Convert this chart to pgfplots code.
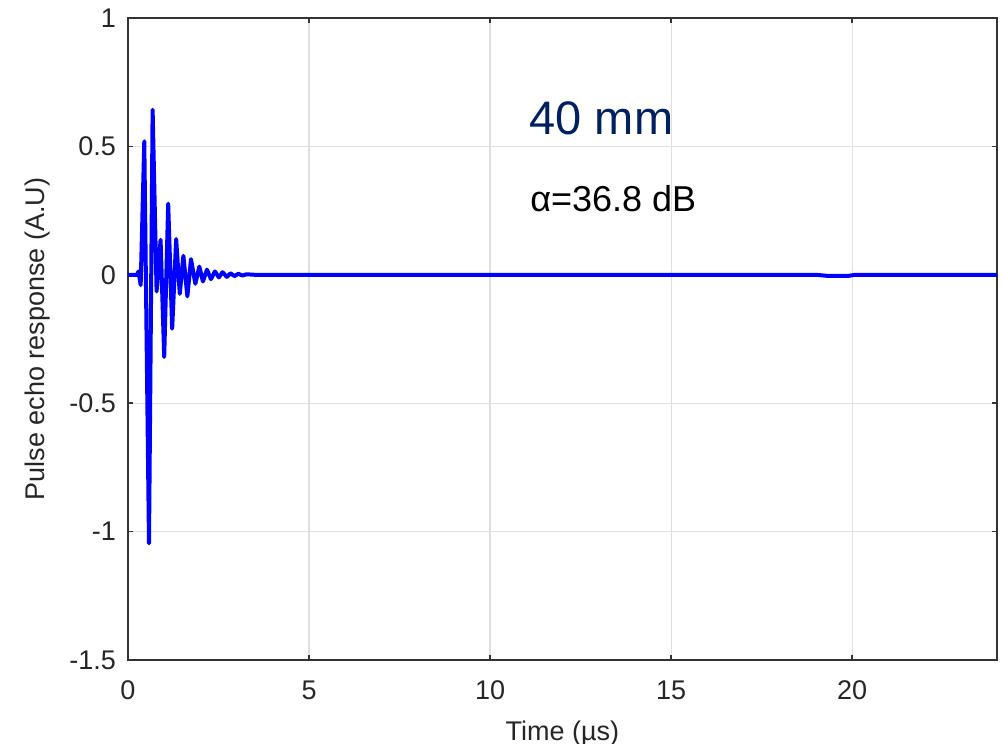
\documentclass[border=0pt]{standalone}
\usepackage{pgfplots}
\pgfplotsset{compat=1.18}
\usepackage{fontspec}
\setmainfont{Liberation Sans}
\definecolor{navy}{HTML}{002060}
\begin{document}
\begin{tikzpicture}
\begin{axis}[name=ax,
  scale only axis, width=434.5pt, height=321pt,
  xmin=0, xmax=24, ymin=-1.5, ymax=1,
  xtick={0,5,10,15,20}, ytick={-1.5,-1,-0.5,0,0.5,1},
  yticklabels={-1.5,-1,-0.5,0,0.5,1},
  xticklabels={0,5,10,15,20},
  tick align=inside, major tick length=2.5pt,
  grid=major, grid style={gray!25, line width=0.6pt},
  axis line style={black!80, line width=0.7pt},
  tick style={black!80, line width=0.7pt},
  ticklabel style={font=\fontsize{13.5}{15}\selectfont, text=black!85},
  xticklabel style={yshift=-7pt},
  yticklabel style={xshift=-2.5pt},
  label style={font=\fontsize{13.5}{15}\selectfont, text=black!85},
  xlabel={Time (µs)}, ylabel={Pulse echo response (A.U)},
  xlabel style={yshift=-3.5pt},
  ylabel style={yshift=3pt},
  clip=true,
]
\addplot[blue, line width=2pt, line join=round] coordinates {
(0,0) (0.25,0) (0.29,0.013) (0.35,-0.04) (0.45,0.52) (0.58,-1.046) (0.68,0.643)
(0.79,-0.065) (0.90,0.136) (1.00,-0.32) (1.11,0.277) (1.22,-0.21) (1.33,0.139)
(1.43,-0.074) (1.53,0.074) (1.64,-0.084) (1.74,0.061) (1.86,-0.035) (1.97,0.032)
(2.07,-0.026) (2.18,0.02) (2.29,-0.017) (2.40,0.013) (2.51,-0.01) (2.61,0.01)
(2.73,-0.008) (2.83,0.006) (2.94,-0.005) (3.05,0.004) (3.16,-0.003) (3.27,0.002)
(3.5,0) (19.0,0) (19.3,-0.004) (19.9,-0.004) (20.1,0) (24,0)
};
\node[anchor=base west, text=navy, font=\fontsize{23.5}{26}\selectfont, inner sep=0pt] at (axis cs:11.08,0.546) {40 mm};
\node[anchor=base west, text=black, font=\fontsize{18}{20}\selectfont, inner sep=0pt] at (axis cs:11.1,0.245) {α=36.8 dB};
\end{axis}
\pgfresetboundingbox
\path[use as bounding box] ([xshift=-64pt,yshift=-42pt]ax.south west) rectangle ([xshift=2.5pt,yshift=9pt]ax.north east);
\end{tikzpicture}
\end{document}
